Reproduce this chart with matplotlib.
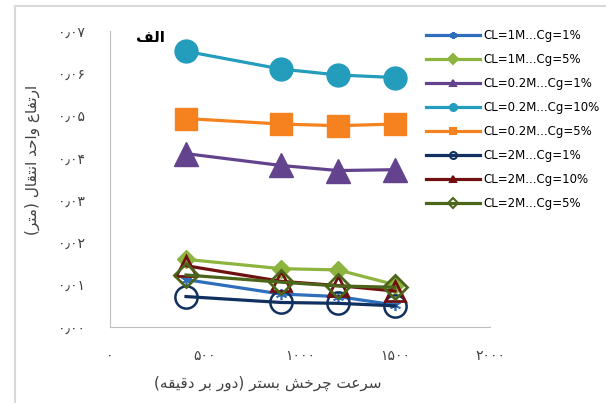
import matplotlib
matplotlib.use("Agg")
import matplotlib.pyplot as plt
from matplotlib.lines import Line2D
from matplotlib.patches import Rectangle

# rotation speed (rpm)
speed = [400, 900, 1200, 1500]

# HTU (m) for each series
htu_1M_1 = [0.0112, 0.0078, 0.0072, 0.0052]
htu_1M_5 = [0.0160, 0.0138, 0.0135, 0.0100]
htu_02M_1 = [0.0410, 0.0382, 0.0370, 0.0372]
htu_02M_10 = [0.0652, 0.0610, 0.0596, 0.0590]
htu_02M_5 = [0.0493, 0.0480, 0.0476, 0.0480]
htu_2M_1 = [0.0072, 0.0058, 0.0056, 0.0050]
htu_2M_10 = [0.0145, 0.0108, 0.0098, 0.0085]
htu_2M_5 = [0.0123, 0.0106, 0.0097, 0.0094]

labels = ["CL=1M...Cg=1%", "CL=1M...Cg=5%", "CL=0.2M...Cg=1%", "CL=0.2M...Cg=10%",
          "CL=0.2M...Cg=5%", "CL=2M...Cg=1%", "CL=2M...Cg=10%", "CL=2M...Cg=5%"]

yticks = [0, 0.01, 0.02, 0.03, 0.04, 0.05, 0.06, 0.07]
ytick_labels = ["۰٫۰۰", "۰٫۰۱", "۰٫۰۲", "۰٫۰۳", "۰٫۰۴", "۰٫۰۵", "۰٫۰۶", "۰٫۰۷"]
xticks = [0, 500, 1000, 1500, 2000]
xtick_labels = ["۰", "۵۰۰", "۱۰۰۰", "۱۵۰۰", "۲۰۰۰"]

title_txt = "الف"
xlabel_txt = "سرعت چرخش بستر (دور بر دقیقه)"
ylabel_txt = "ارتفاع واحد انتقال (متر)"

# matplotlib has no arabic shaping, so do it by hand with presentation forms
FORMS = {
    "ا": ("\uFE8D", "\uFE8E"), "د": ("\uFEA9", "\uFEAA"), "ر": ("\uFEAD", "\uFEAE"),
    "و": ("\uFEED", "\uFEEE"),
    "ب": ("\uFE8F", "\uFE90", "\uFE91", "\uFE92"), "ت": ("\uFE95", "\uFE96", "\uFE97", "\uFE98"),
    "ح": ("\uFEA1", "\uFEA2", "\uFEA3", "\uFEA4"), "خ": ("\uFEA5", "\uFEA6", "\uFEA7", "\uFEA8"),
    "س": ("\uFEB1", "\uFEB2", "\uFEB3", "\uFEB4"), "ش": ("\uFEB5", "\uFEB6", "\uFEB7", "\uFEB8"),
    "ع": ("\uFEC9", "\uFECA", "\uFECB", "\uFECC"), "ف": ("\uFED1", "\uFED2", "\uFED3", "\uFED4"),
    "ق": ("\uFED5", "\uFED6", "\uFED7", "\uFED8"), "ل": ("\uFEDD", "\uFEDE", "\uFEDF", "\uFEE0"),
    "م": ("\uFEE1", "\uFEE2", "\uFEE3", "\uFEE4"), "ن": ("\uFEE5", "\uFEE6", "\uFEE7", "\uFEE8"),
    "ه": ("\uFEE9", "\uFEEA", "\uFEEB", "\uFEEC"), "ی": ("\uFBFC", "\uFBFD", "\uFBFE", "\uFBFF"),
    "چ": ("\uFB7A", "\uFB7B", "\uFB7C", "\uFB7D"),
}


def farsi(s):
    out = []
    for i, c in enumerate(s):
        if c not in FORMS:
            out.append(c)
            continue
        prev = s[i - 1] if i > 0 else ""
        nxt = s[i + 1] if i < len(s) - 1 else ""
        j_prev = prev in FORMS and len(FORMS[prev]) == 4
        j_next = len(FORMS[c]) == 4 and nxt in FORMS
        f = FORMS[c]
        if j_prev and j_next:
            out.append(f[3])
        elif j_prev:
            out.append(f[1])
        elif j_next:
            out.append(f[2])
        else:
            out.append(f[0])
    vis = "".join(reversed(out))
    return vis.translate(str.maketrans("()", ")("))


fig = plt.figure(figsize=(6.06, 4.03), dpi=100)
ax = fig.add_axes([110 / 606, 1 - 327 / 403, 380 / 606, 296 / 403])

series = [
    (htu_1M_1, "#2f6eba", dict(marker=(6, 2, 0), ms=8, mew=1.2)),
    (htu_1M_5, "#8db43e", dict(marker="D", ms=9, mew=1)),
    (htu_02M_1, "#64438e", dict(marker="^", ms=17, mew=1)),
    (htu_02M_10, "#239dbb", dict(marker="o", ms=16.5, mew=1)),
    (htu_02M_5, "#f5821f", dict(marker="s", ms=16, mew=1)),
    (htu_2M_1, "#10305f", dict(marker="o", ms=16, mew=1.8, mfc="none")),
    (htu_2M_10, "#700f0f", dict(marker="^", ms=15, mew=2, mfc="none")),
    (htu_2M_5, "#4b661a", dict(marker="D", ms=12, mew=2, mfc="none")),
]

handles = []
for vals, col, mk in series:
    ax.plot(speed, vals, color=col, lw=2.3, **mk)
    handles.append(Line2D([], [], color=col, lw=2.3, marker=mk["marker"], ms=5,
                          mfc=col if mk.get("mfc") != "none" else "none", mew=1.5))

ax.set_xlim(0, 2000)
ax.set_ylim(0, 0.07)
ax.set_xticks(xticks)
ax.set_xticklabels(xtick_labels, fontsize=10, color="#404040")
ax.set_yticks(yticks)
ax.set_yticklabels(ytick_labels, fontsize=10, color="#404040")
ax.tick_params(length=0)
ax.tick_params(axis="y", pad=18)
ax.tick_params(axis="x", pad=16)
for s in ["top", "right"]:
    ax.spines[s].set_visible(False)
for s in ["left", "bottom"]:
    ax.spines[s].set_color("#bfbfbf")

fig.text(150 / 606, 1 - 37 / 403, farsi(title_txt), fontsize=11, fontweight="bold",
         ha="center", va="center")
fig.text(268 / 606, 1 - 383 / 403, farsi(xlabel_txt), fontsize=11, ha="center",
         va="center", color="#404040")
fig.text(32 / 606, 1 - 160 / 403, farsi(ylabel_txt), fontsize=11, ha="center",
         va="center", rotation=90, color="#404040")

fig.legend(handles, labels, loc="upper left", bbox_to_anchor=(420 / 606, 1 - 23 / 403),
           frameon=False, fontsize=8.5, handlelength=4.6, handletextpad=0.3,
           labelspacing=0.93, borderpad=0)

fig.add_artist(Rectangle((15 / 606, -0.1), 1.2, 1 - 6 / 403 + 0.1, transform=fig.transFigure,
                         fill=False, edgecolor="#d9d9d9", lw=1.5))

fig.savefig("out.png", dpi=100)
